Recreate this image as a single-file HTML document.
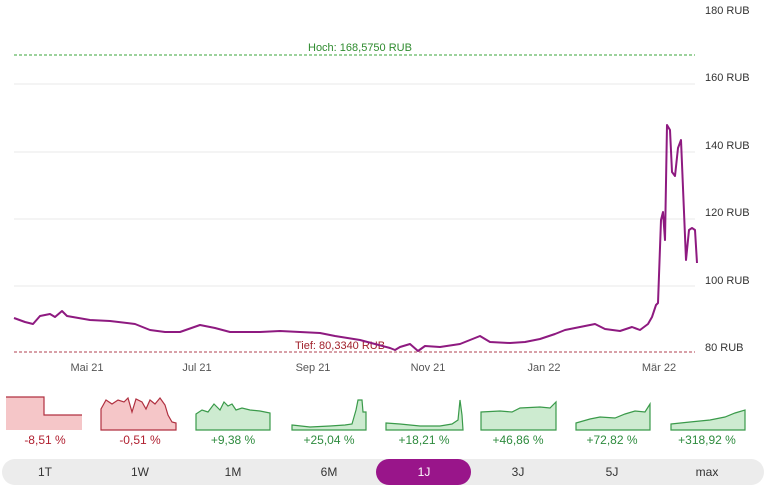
<!DOCTYPE html>
<html><head><meta charset="utf-8"><style>
body{margin:0;background:#fff;width:766px;height:499px;overflow:hidden;font-family:"Liberation Sans",sans-serif}
</style></head><body>
<svg width="766" height="499" xmlns="http://www.w3.org/2000/svg" font-family="Liberation Sans, sans-serif">
<g stroke="#e8e8e8" stroke-width="1">
<line x1="14" y1="84" x2="695" y2="84"/><line x1="14" y1="152" x2="695" y2="152"/>
<line x1="14" y1="219" x2="695" y2="219"/><line x1="14" y1="286" x2="695" y2="286"/>
</g>
<g font-size="11" fill="#333">
<text x="705" y="14">180 RUB</text><text x="705" y="81">160 RUB</text>
<text x="705" y="149">140 RUB</text><text x="705" y="216">120 RUB</text>
<text x="705" y="284">100 RUB</text><text x="705" y="351">80 RUB</text>
</g>
<line x1="14" y1="55" x2="695" y2="55" stroke="#3aa63a" stroke-dasharray="3,2"/>
<text x="308" y="51" font-size="11" fill="#2e8b2e">Hoch: 168,5750 RUB</text>
<line x1="14" y1="352" x2="695" y2="352" stroke="#b04050" stroke-dasharray="3,2"/>
<text x="295" y="349" font-size="11" fill="#a0202a">Tief: 80,3340 RUB</text>
<polyline fill="none" stroke="#8e1a80" stroke-width="2" stroke-linejoin="round" points="14,318 25,322 33,324 40,316 50,314 55,317 62,311 67,316 90,320 110,321 135,324 150,330 165,332 180,332 200,325 215,328 230,332 260,332 280,331 300,332 320,333 335,336 360,340 375,344 390,348 395,350 400,347 410,344 418,351 425,346 440,347 460,344 470,340 480,336 490,342 510,343 525,342 540,339 555,334 565,330 580,327 595,324 605,329 620,331 632,327 640,330 648,324 652,317 656,305 658,303 661,220 663,212 665,240 667,125 670,130 672,172 675,176 678,148 681,140 686,260 689,230 692,228 695,230 697,263"/>
<g font-size="11" fill="#555" text-anchor="middle">
<text x="87" y="371">Mai 21</text><text x="197" y="371">Jul 21</text><text x="313" y="371">Sep 21</text>
<text x="428" y="371">Nov 21</text><text x="544" y="371">Jan 22</text><text x="659" y="371">Mär 22</text>
</g>
<!-- minis -->
<path d="M6,397 H44 V415 H82 V430 H6 Z" fill="#f5c6c8"/><path d="M6,397 H44 V415 H82" fill="none" stroke="#b03040" stroke-width="1.2"/>
<path d="M101,409 L106,400 L112,404 L118,400 L124,402 L128,398 L132,412 L136,399 L142,402 L146,409 L150,400 L155,404 L160,398 L165,405 L168,415 L172,422 L176,423 V430 H101 Z" fill="#f5c6c8" stroke="#b03040" stroke-width="1.2"/>
<path d="M196,414 L202,410 L208,412 L214,404 L220,410 L224,402 L228,406 L232,404 L236,410 L242,408 L250,410 L260,411 L270,413 V430 H196 Z" fill="#cdebd0" stroke="#3a9a4a" stroke-width="1.2"/>
<path d="M292,425 L310,427 L330,426 L345,425 L352,424 L356,410 L358,400 L362,400 L363,412 L366,412 V430 H292 Z" fill="#cdebd0" stroke="#3a9a4a" stroke-width="1.2"/>
<path d="M386,423 L400,424 L420,426 L440,426 L452,424 L458,420 L460,400 L462,415 L463,430 H386 Z" fill="#cdebd0" stroke="#3a9a4a" stroke-width="1.2"/>
<path d="M481,412 L500,411 L512,412 L520,408 L540,407 L550,408 L556,402 V430 H481 Z" fill="#cdebd0" stroke="#3a9a4a" stroke-width="1.2"/>
<path d="M576,423 L590,419 L600,417 L615,418 L625,414 L635,411 L645,412 L650,404 V430 H576 Z" fill="#cdebd0" stroke="#3a9a4a" stroke-width="1.2"/>
<path d="M671,424 L690,422 L710,420 L725,417 L735,413 L745,410 V430 H671 Z" fill="#cdebd0" stroke="#3a9a4a" stroke-width="1.2"/>
<g font-size="12" text-anchor="middle">
<text x="45" y="444" fill="#b02030">-8,51 %</text><text x="140" y="444" fill="#b02030">-0,51 %</text>
<text x="233" y="444" fill="#2e8b3e">+9,38 %</text><text x="329" y="444" fill="#2e8b3e">+25,04 %</text>
<text x="424" y="444" fill="#2e8b3e">+18,21 %</text><text x="518" y="444" fill="#2e8b3e">+46,86 %</text>
<text x="612" y="444" fill="#2e8b3e">+72,82 %</text><text x="707" y="444" fill="#2e8b3e">+318,92 %</text>
</g>
<rect x="2" y="459" width="762" height="26" rx="13" fill="#ececec"/>
<rect x="376" y="459" width="95" height="26" rx="13" fill="#99158a"/>
<g font-size="12" text-anchor="middle" fill="#333">
<text x="45" y="476">1T</text><text x="140" y="476">1W</text><text x="233" y="476">1M</text><text x="329" y="476">6M</text>
<text x="424" y="476" fill="#fff">1J</text><text x="518" y="476">3J</text><text x="612" y="476">5J</text><text x="707" y="476">max</text>
</g>
</svg>
</body></html>
